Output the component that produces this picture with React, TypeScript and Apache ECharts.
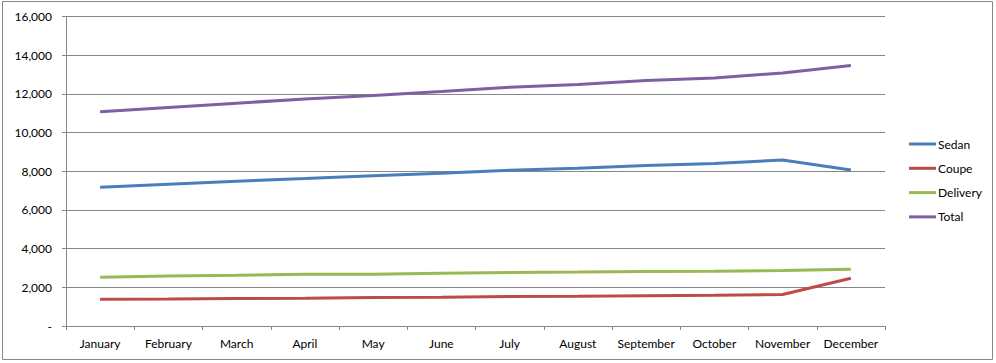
import React, { useEffect, useRef } from "react";
import * as echarts from "echarts";

const months = ["January", "February", "March", "April", "May", "June", "July", "August", "September", "October", "November", "December"];
const sedan = [7170, 7330, 7480, 7620, 7770, 7900, 8050, 8150, 8300, 8400, 8580, 8070];
const coupe = [1380, 1390, 1420, 1440, 1470, 1490, 1520, 1540, 1570, 1590, 1630, 2470];
const delivery = [2520, 2580, 2620, 2670, 2680, 2730, 2770, 2790, 2820, 2830, 2870, 2930];
const total = [11070, 11300, 11520, 11730, 11920, 12120, 12340, 12480, 12690, 12820, 13080, 13470];

const seriesNames = ["Sedan", "Coupe", "Delivery", "Total"];
const seriesColors = ["#4A7EBB", "#BE4B48", "#98B954", "#7D60A0"];

export default function App() {
  const ref = useRef<HTMLDivElement>(null);
  useEffect(() => {
    if (!ref.current) return;
    const chart = echarts.init(ref.current, null, { renderer: "svg" });
    const data = [sedan, coupe, delivery, total];
    const font = "Lato, 'Liberation Sans', sans-serif";
    chart.setOption({
      animation: false,
      backgroundColor: "#ffffff",
      graphic: [
        {
          type: "rect",
          shape: { x: 2.5, y: 1.5, width: 990, height: 358 },
          style: { fill: "none", stroke: "#868686", lineWidth: 1 },
          silent: true,
        },
      ],
      grid: { left: 66, right: 111, top: 16.5, bottom: 37, containLabel: false },
      legend: {
        orient: "vertical",
        left: 904,
        top: 132,
        icon: "rect",
        itemWidth: 27,
        itemHeight: 3,
        itemGap: 10.3,
        textStyle: { fontFamily: font, fontSize: 12, color: "#000", padding: [0, 0, 0, -3], lineHeight: 14 },
        data: seriesNames,
      },
      xAxis: {
        type: "category",
        data: months,
        boundaryGap: true,
        axisLine: { lineStyle: { color: "#868686", width: 1 } },
        axisTick: { show: true, length: 4, inside: false, lineStyle: { color: "#868686" } },
        axisLabel: { fontFamily: font, fontSize: 12, color: "#000", margin: 11, interval: 0 },
        splitLine: { show: false },
      },
      yAxis: {
        type: "value",
        min: 0,
        max: 16000,
        interval: 2000,
        axisLine: { show: true, lineStyle: { color: "#868686", width: 1 } },
        axisTick: { show: true, length: 4, lineStyle: { color: "#868686" } },
        axisLabel: {
          fontFamily: font,
          fontSize: 12,
          color: "#000",
          margin: 14,
          formatter: (v: number) => (v === 0 ? "-" : v.toLocaleString("en-US")),
        },
        splitLine: { show: true, lineStyle: { color: "#868686", width: 1 } },
      },
      series: seriesNames.map((name, i) => ({
        name,
        type: "line",
        data: data[i],
        symbol: "none",
        showSymbol: false,
        color: seriesColors[i],
        itemStyle: { color: seriesColors[i] },
        lineStyle: { color: seriesColors[i], width: 3 },
      })),
    });
    return () => chart.dispose();
  }, []);
  return (
    <div
      ref={ref}
      style={{ position: "absolute", left: 0, top: 0, width: 996, height: 363 }}
    />
  );
}
